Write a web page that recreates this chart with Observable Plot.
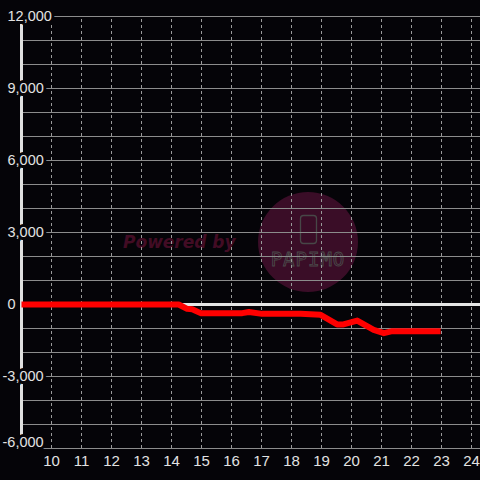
<!DOCTYPE html>
<html>
<head>
<meta charset="utf-8">
<script src="https://cdn.jsdelivr.net/npm/d3@7"></script>
<script src="https://cdn.jsdelivr.net/npm/@observablehq/plot@0.6"></script>
<style>
  html, body { margin: 0; padding: 0; background: #050408; }
  #wrap { position: relative; width: 480px; height: 480px; overflow: hidden; background: #050408; }
  #wm { position: absolute; left: 0; top: 0; }
  #chart { position: absolute; left: 0; top: 0; }
  #chart svg { background: transparent !important; }
</style>
</head>
<body>
<div id="wrap">
  <svg id="wm" width="480" height="480">
    <text x="123" y="248" font-family="DejaVu Sans" font-weight="bold" font-style="italic" font-size="17" fill="#420c24">Powered by</text>
    <circle cx="308" cy="242" r="50" fill="#3a0d27"></circle>
    <rect x="300.5" y="215.5" width="16" height="28" rx="3" fill="none" stroke="#474747" stroke-width="1.3"></rect>
    <text x="308" y="266" text-anchor="middle" font-family="DejaVu Sans Mono" font-size="19" fill="none" stroke="#4a4a4a" stroke-width="0.9" letter-spacing="1">PAPIMO</text>
  </svg>
  <div id="chart"></div>
</div>
<script>
// Data
const hours  = [9, 14.24, 14.52, 14.69, 14.97, 16.36, 16.58, 17.02, 18.3, 18.97, 19.52, 19.73, 20.19, 20.74, 21.08, 21.36, 22.97];
const values = [0, 0, -180, -200, -360, -360, -310, -390, -390, -430, -830, -830, -670, -1055, -1195, -1110, -1110];

const xTicks = [10, 11, 12, 13, 14, 15, 16, 17, 18, 19, 20, 21, 22, 23, 24];
const yLabelTicks = [12000, 9000, 6000, 3000, 0, -3000, -6000];
const yGrid = [12000, 11000, 10000, 9000, 8000, 7000, 6000, 5000, 4000, 3000, 2000, 1000, -1000, -2000, -3000, -4000, -5000, -6000];

const series = hours.map((h, i) => ({hour: h, value: values[i]}));
const fmt = d3.format(",");
const yMin = d3.min(yLabelTicks);

const labelStyle = {
  fill: "#e2e2e2", stroke: "#050408", strokeWidth: 6,
  fontFamily: "Liberation Sans", fontSize: 14.5, textAnchor: "start"
};

const chart = Plot.plot({
  width: 480,
  height: 480,
  marginLeft: 21,
  marginRight: 0,
  marginTop: 16,
  marginBottom: 32,
  style: {background: "transparent", overflow: "visible"},
  x: {domain: [9, 24.3], axis: null},
  y: {domain: [-6000, 12000], axis: null},
  marks: [
    Plot.ruleY(yGrid, {stroke: "#8c8c8c", strokeWidth: 1}),
    Plot.ruleX(xTicks, {y1: -6000, y2: 12000, stroke: "#9a9a9a", strokeWidth: 1, strokeDasharray: "3,3"}),
    Plot.ruleY([0], {stroke: "#e6e6e6", strokeWidth: 3}),
    Plot.ruleX([9], {y1: -6000, y2: 12000, stroke: "#e0e0e0", strokeWidth: 3}),
    Plot.line(series, {x: "hour", y: "value", stroke: "#ff0000", strokeWidth: 6, strokeLinejoin: "round", strokeLinecap: "butt"}),
    Plot.text(yLabelTicks.filter(d => d >= 0), {
      x: () => 9, y: d => d, text: d => fmt(d), dx: -14, ...labelStyle
    }),
    Plot.text(yLabelTicks.filter(d => d < 0 && d > yMin), {
      x: () => 9, y: d => d, text: d => fmt(d).replace("−", "-"), dx: -19, ...labelStyle
    }),
    Plot.text(yLabelTicks.filter(d => d === yMin), {
      x: () => 9, y: d => d, text: d => fmt(d).replace("−", "-"), dx: -19, dy: -6, ...labelStyle
    }),
    Plot.text(xTicks, {
      x: d => d, y: () => -6000, text: d => String(d), dy: 13,
      fill: "#e2e2e2", fontFamily: "Liberation Sans", fontSize: 15
    })
  ]
});
document.getElementById("chart").appendChild(chart);
</script>
</body>
</html>
